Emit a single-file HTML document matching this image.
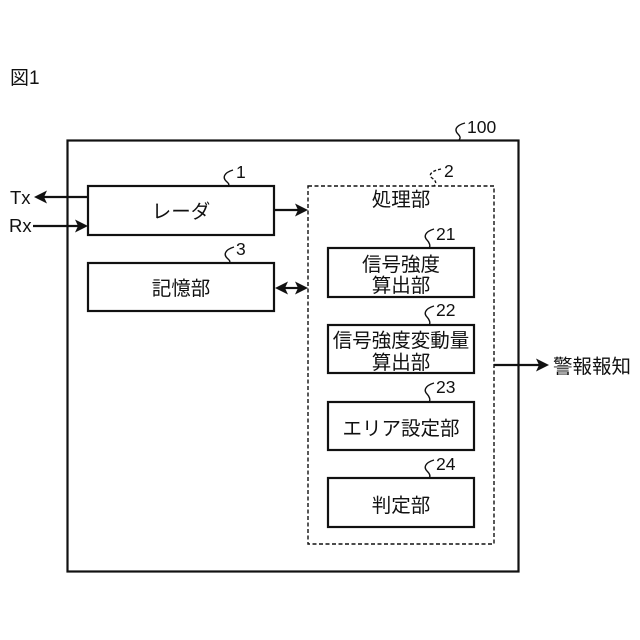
<!DOCTYPE html>
<html><head><meta charset="utf-8"><style>
html,body{margin:0;padding:0;background:#fff}
svg{display:block}
text{font-family:"Liberation Sans","Noto Sans CJK JP",sans-serif;fill:#111;font-size:19.5px}
.c{text-anchor:middle}
.n{font-size:17.5px}
.l{font-size:18.5px}
</style></head><body>
<svg width="640" height="640" viewBox="0 0 640 640" xmlns="http://www.w3.org/2000/svg">
<g fill="none" stroke="#111" stroke-width="2.2">
<rect x="67.500" y="140.500" width="451" height="431"/>
<rect x="88" y="186" width="186" height="49"/>
<rect x="88" y="263" width="186" height="48"/>
<rect x="328" y="248" width="146" height="49"/>
<rect x="328" y="325" width="146" height="48"/>
<rect x="328" y="402" width="146" height="48"/>
<rect x="328" y="478" width="146" height="49"/>
<rect x="308" y="186" width="186" height="358" stroke-width="1.400" stroke-dasharray="4 2.500"/>
</g>
<g stroke="#111" stroke-width="2.200" fill="none">
<line x1="88" y1="197" x2="42" y2="197"/>
<line x1="33" y1="226" x2="80" y2="226"/>
<line x1="274" y1="210" x2="300" y2="210"/>
<line x1="284" y1="288" x2="299" y2="288"/>
<line x1="494" y1="365" x2="542" y2="365"/>
</g>
<g fill="#111">
<polygon points="34,197 47,190.500 44,197 47,203.500"/>
<polygon points="88,226 75,219.500 78,226 75,232.500"/>
<polygon points="308,210 295,203.500 298,210 295,216.500"/>
<polygon points="275,288 288,281.500 285,288 288,294.500"/>
<polygon points="308,288 295,281.500 298,288 295,294.500"/>
<polygon points="549,365 536,358.500 539,365 536,371.500"/>
</g>
<g fill="none" stroke="#111" stroke-width="1.400">
<path d="M465,123 C454,126 455,131 458,134 C460,136 461,138 459,140"/>
<path d="M233,170 C223,173 223,178 226,181 C228,183 230,184 228,186"/>
<path d="M234,247 C224,250 224,255 227,258 C229,260 231,261 229,263"/>
<path d="M434,229 C424,232 424,237 427,240 C429,242 431,246 429,248"/>
<path d="M434,306 C424,309 424,314 427,317 C429,319 431,323 429,325"/>
<path d="M434,383 C424,386 424,391 427,394 C429,396 431,400 429,402"/>
<path d="M434,460 C424,463 424,468 427,471 C429,473 431,476 429,478"/>
<path d="M441,169 C431,171 428,175 432,178 C436,181 437,183 434,186" stroke-dasharray="3 2"/>
</g>
<text x="10" y="84" style="font-size:19px">図1</text>
<text x="467" y="133" class="n">100</text>
<text x="236" y="178" class="n">1</text>
<text x="236" y="255" class="n">3</text>
<text x="444" y="177" class="n">2</text>
<text x="436" y="240" class="n">21</text>
<text x="436" y="316" class="n">22</text>
<text x="436" y="393" class="n">23</text>
<text x="436" y="470" class="n">24</text>
<text x="10" y="204" class="l">Tx</text>
<text x="9" y="232" class="l">Rx</text>
<text x="181" y="218" class="c">レーダ</text>
<text x="181" y="295" class="c">記憶部</text>
<text x="401" y="206" class="c">処理部</text>
<text x="401" y="271" class="c">信号強度</text>
<text x="401" y="292" class="c">算出部</text>
<text x="401" y="347" class="c">信号強度変動量</text>
<text x="401" y="369" class="c">算出部</text>
<text x="401" y="435" class="c">エリア設定部</text>
<text x="401" y="512" class="c">判定部</text>
<text x="553" y="373">警報報知</text>
</svg>
</body></html>
